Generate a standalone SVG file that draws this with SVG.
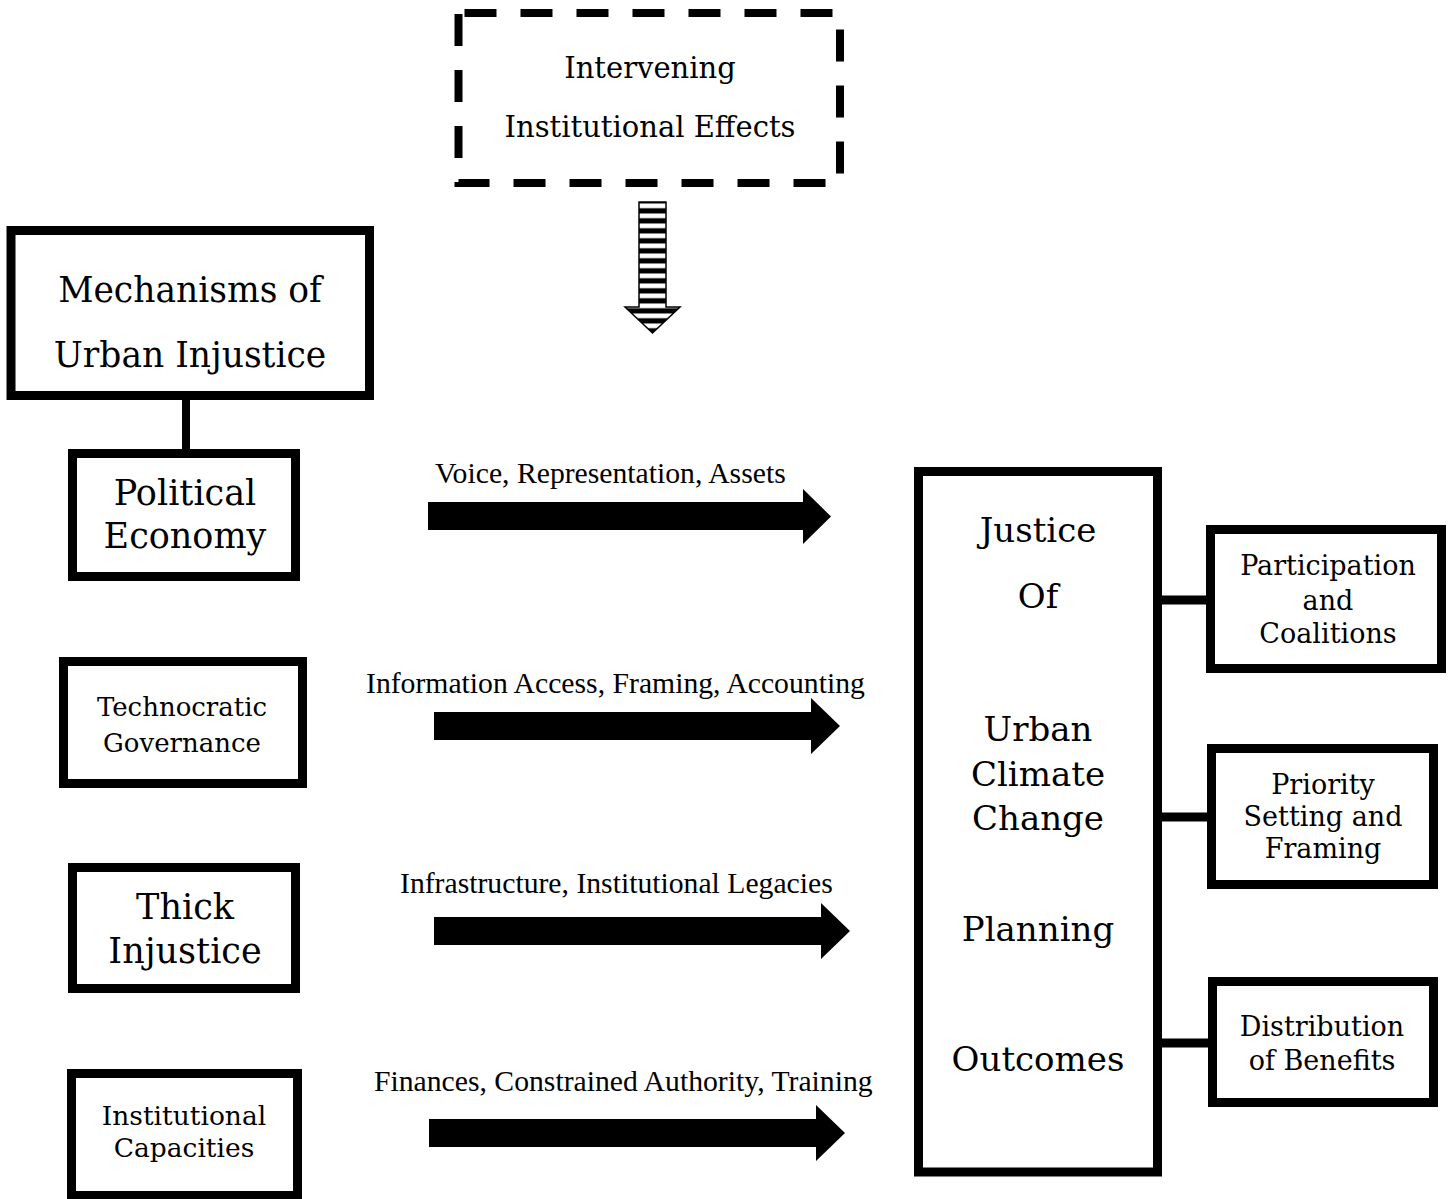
<svg xmlns="http://www.w3.org/2000/svg" width="1456" height="1199" viewBox="0 0 1456 1199">
<style>
.box{fill:#fff;stroke:#000;stroke-width:9}
.t{font-family:"DejaVu Serif","Liberation Serif",serif;fill:#000;text-anchor:middle}
.lbl{font-family:"Liberation Serif","Times New Roman",serif;font-size:29.7px;fill:#000}
.link{stroke:#000;fill:none}
.arr{fill:#000}
</style>
<defs>
<pattern id="stripes" patternUnits="userSpaceOnUse" x="0" y="202" width="20" height="10">
<rect x="0" y="0" width="20" height="10" fill="#000"/>
<rect x="0" y="1.5" width="20" height="4.5" fill="#fff"/>
<rect x="0" y="1" width="20" height="0.8" fill="#888"/>
<rect x="0" y="5.8" width="20" height="0.8" fill="#888"/>
</pattern>
</defs>
<rect width="1456" height="1199" fill="#fff"/>

<g id="intervening">
<rect x="458.5" y="13" width="381.5" height="170" fill="none" stroke="#000" stroke-width="8" stroke-dasharray="32 24" stroke-dashoffset="-6"/>
<text class="t" x="650" y="78" font-size="29">Intervening</text>
<text class="t" x="650" y="137" font-size="29">Institutional Effects</text>
</g>

<g id="intervening-arrow">
<path d="M639,202 H666 V307 H680 L652.5,333 L625,307 H639 Z" fill="url(#stripes)" stroke="#000" stroke-width="1.5"/>
</g>

<g id="mechanisms">
<rect class="box" x="11" y="230.5" width="358.5" height="165"/>
<text class="t" x="190" y="302" font-size="34.5">Mechanisms of</text>
<text class="t" x="190" y="367" font-size="34.5">Urban Injustice</text>
</g>

<g id="political-economy">
<rect class="box" x="72.5" y="453.5" width="223" height="123"/>
<text class="t" x="185" y="505" font-size="35">Political</text>
<text class="t" x="185" y="548" font-size="35">Economy</text>
</g>

<g id="technocratic-governance">
<rect class="box" x="63.5" y="661.5" width="239" height="122"/>
<text class="t" x="182" y="716" font-size="26">Technocratic</text>
<text class="t" x="182" y="752" font-size="26">Governance</text>
</g>

<g id="thick-injustice">
<rect class="box" x="72.5" y="867.5" width="223" height="121"/>
<text class="t" x="185" y="919" font-size="35">Thick</text>
<text class="t" x="185" y="963" font-size="35">Injustice</text>
</g>

<g id="institutional-capacities">
<rect class="box" x="71.5" y="1073.5" width="226" height="122"/>
<text class="t" x="184" y="1125" font-size="26.5">Institutional</text>
<text class="t" x="184" y="1157" font-size="26.5">Capacities</text>
</g>

<g id="justice-outcomes">
<rect class="box" x="918.5" y="471.5" width="239" height="700.5"/>
<text class="t" x="1038" y="542" font-size="34">Justice</text>
<text class="t" x="1038" y="608" font-size="34">Of</text>
<text class="t" x="1038" y="741" font-size="34">Urban</text>
<text class="t" x="1038" y="786" font-size="34">Climate</text>
<text class="t" x="1038" y="830" font-size="34">Change</text>
<text class="t" x="1038" y="941" font-size="34">Planning</text>
<text class="t" x="1038" y="1071" font-size="34">Outcomes</text>
</g>

<g id="participation">
<rect class="box" x="1210.5" y="529.5" width="231" height="139"/>
<text class="t" x="1328" y="575" font-size="27">Participation</text>
<text class="t" x="1328" y="610" font-size="27">and</text>
<text class="t" x="1328" y="643" font-size="27">Coalitions</text>
</g>

<g id="priority">
<rect class="box" x="1211.5" y="748.5" width="222" height="136"/>
<text class="t" x="1323" y="794" font-size="27">Priority</text>
<text class="t" x="1323" y="826" font-size="27">Setting and</text>
<text class="t" x="1323" y="858" font-size="27">Framing</text>
</g>

<g id="distribution">
<rect class="box" x="1212.5" y="981.5" width="221" height="121"/>
<text class="t" x="1322" y="1036" font-size="27">Distribution</text>
<text class="t" x="1322" y="1070" font-size="27">of Benefits</text>
</g>

<g id="connectors">
<line class="link" x1="186" y1="400" x2="186" y2="449" stroke-width="8"/>
<line class="link" x1="1162" y1="600" x2="1207" y2="600" stroke-width="9"/>
<line class="link" x1="1162" y1="817" x2="1207" y2="817" stroke-width="9"/>
<line class="link" x1="1162" y1="1043" x2="1208" y2="1043" stroke-width="9"/>

<polygon class="arr" points="428,502 803,502 803,489 831,516.5 803,544 803,530 428,530"/>
<text class="lbl" x="435" y="483">Voice, Representation, Assets</text>

<polygon class="arr" points="434,712 811,712 811,698 840,726 811,754 811,740 434,740"/>
<text class="lbl" x="366" y="693">Information Access, Framing, Accounting</text>

<polygon class="arr" points="434,917 821,917 821,903 850,931 821,959 821,945 434,945"/>
<text class="lbl" x="400" y="893">Infrastructure, Institutional Legacies</text>

<polygon class="arr" points="429,1119 816,1119 816,1105 845,1133 816,1161 816,1147 429,1147"/>
<text class="lbl" x="374" y="1091">Finances, Constrained Authority, Training</text>
</g>
</svg>
